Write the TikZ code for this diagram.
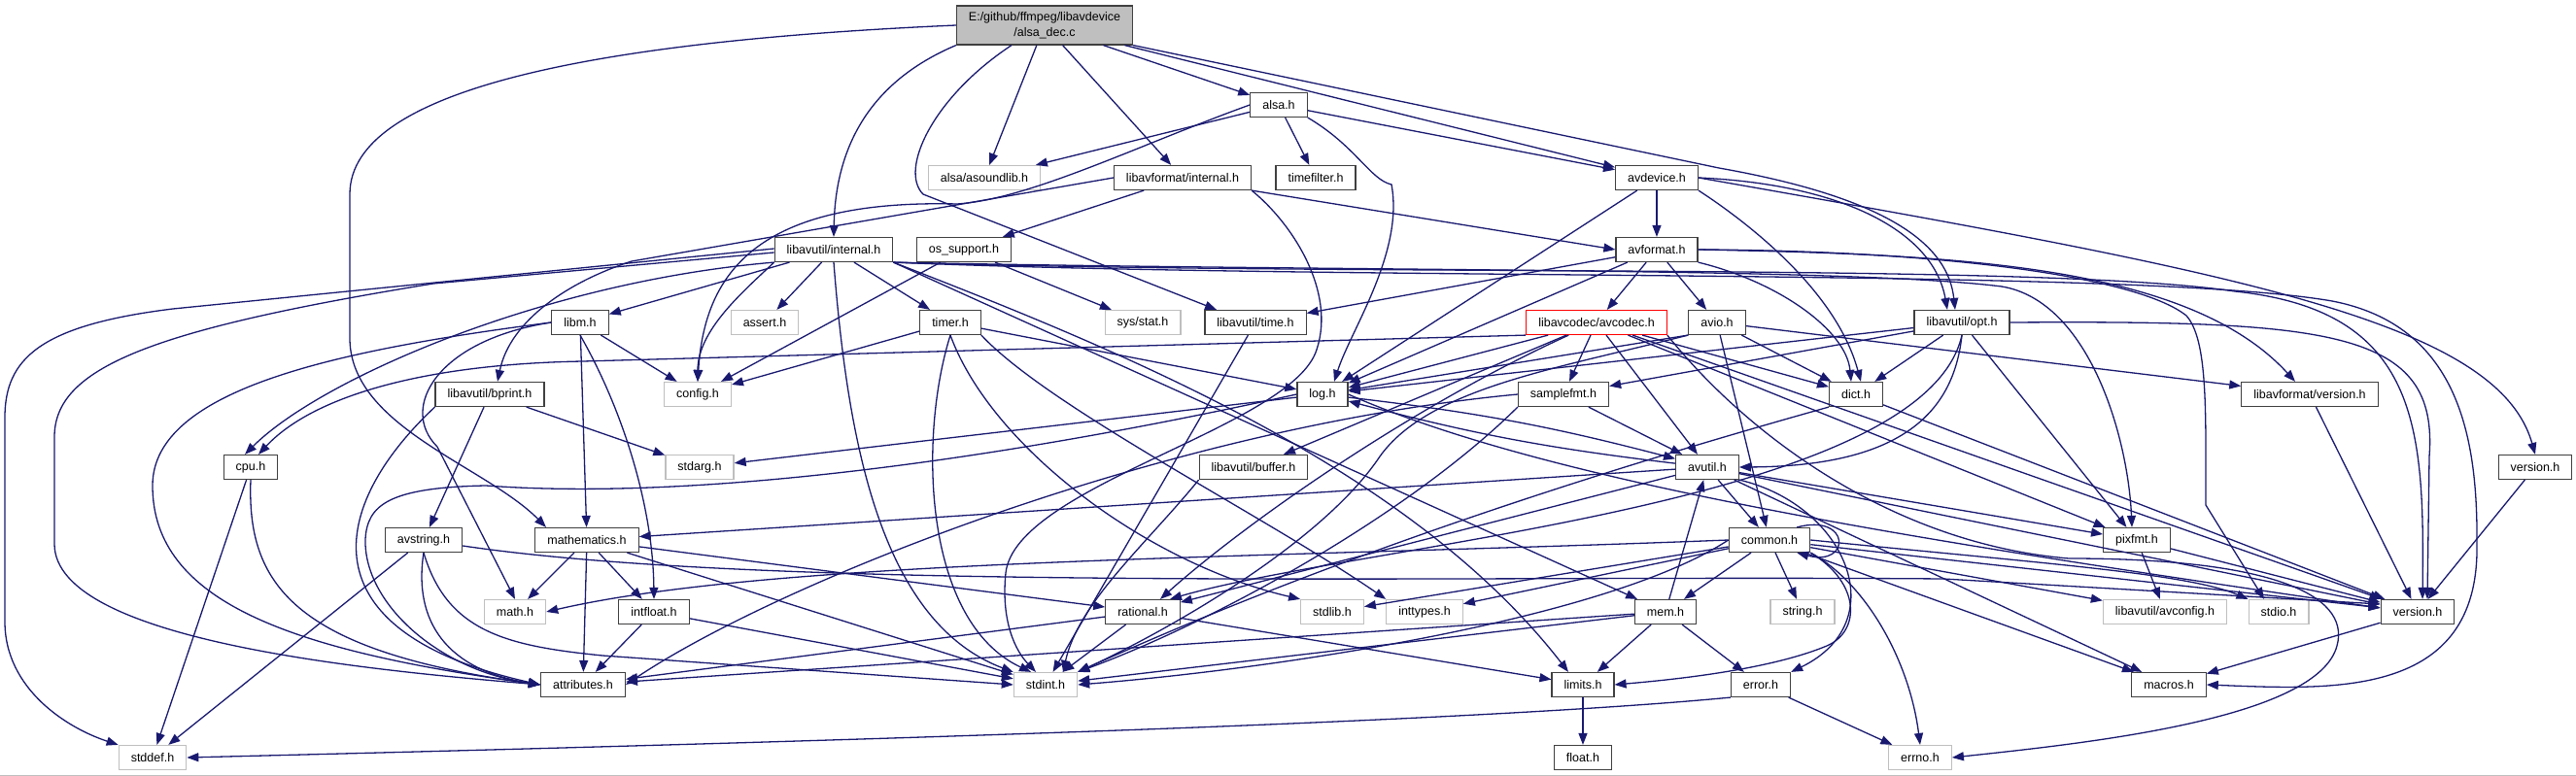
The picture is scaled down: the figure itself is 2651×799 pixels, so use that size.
\documentclass[tikz,border=0pt]{standalone}
\usepackage{fontspec}
\setmainfont{Liberation Sans}
\usepackage{tikz}
\usetikzlibrary{arrows.meta}
\usepackage{xcolor}
\definecolor{myblue}{RGB}{25,25,112}
\definecolor{mygray}{RGB}{191,191,191}
\definecolor{mydark}{RGB}{64,64,64}
\definecolor{myred}{RGB}{255,0,0}

\begin{document}
\begin{tikzpicture}[x=1pt, y=-1pt,
  hdr/.style={draw=mydark, line width=1.2pt, fill=white, rectangle,
    inner xsep=12.5pt, inner ysep=0pt, minimum height=25pt,
    font=\fontsize{12.5}{16}\selectfont},
  sys/.style={hdr, draw=mygray},
  inc/.style={draw=myblue, line width=1.3pt, -{Triangle[length=12pt,width=9pt]}}]
  \useasboundingbox (0,0) rectangle (2651,799);

  % Files
  \node[hdr, fill=mygray, minimum height=40pt, align=center] (dec) at (1075,26) {E:/github/ffmpeg/libavdevice\\/alsa\_dec.c};
  \node[hdr] (alsa) at (1316,108) {alsa.h};
  \node[sys] (asound) at (1013,183) {alsa/asoundlib.h};
  \node[hdr] (lfint) at (1217,183) {libavformat/internal.h};
  \node[hdr] (tfilt) at (1354,183) {timefilter.h};
  \node[hdr] (avdev) at (1705,183) {avdevice.h};
  \node[hdr] (intl) at (858,257) {libavutil/internal.h};
  \node[hdr] (ossup) at (992,257) {os\_support.h};
  \node[hdr] (avfmt) at (1705,257) {avformat.h};
  \node[hdr] (libm) at (597,332) {libm.h};
  \node[sys] (assrt) at (787,332) {assert.h};
  \node[hdr] (timer) at (978,332) {timer.h};
  \node[sys] (sstat) at (1176,332) {sys/stat.h};
  \node[hdr] (ltime) at (1292,332) {libavutil/time.h};
  \node[hdr, draw=myred] (avcodec) at (1643,332) {libavcodec/avcodec.h};
  \node[hdr] (avio) at (1767,332) {avio.h};
  \node[hdr] (opt) at (2019,332) {libavutil/opt.h};
  \node[hdr] (bprint) at (504,406) {libavutil/bprint.h};
  \node[sys] (config) at (718,406) {config.h};
  \node[hdr] (log) at (1361,406) {log.h};
  \node[hdr] (smpfmt) at (1609,406) {samplefmt.h};
  \node[hdr] (dict) at (1910,406) {dict.h};
  \node[hdr] (lfver) at (2377,406) {libavformat/version.h};
  \node[hdr] (cpu) at (258,481) {cpu.h};
  \node[sys] (stdarg) at (720,481) {stdarg.h};
  \node[hdr] (buffer) at (1290,481) {libavutil/buffer.h};
  \node[hdr] (avutil) at (1757,481) {avutil.h};
  \node[hdr] (dver) at (2609,481) {version.h};
  \node[hdr] (avstr) at (436,556) {avstring.h};
  \node[hdr] (mathh) at (604,556) {mathematics.h};
  \node[hdr] (common) at (1821,556) {common.h};
  \node[hdr] (pixfmt) at (2199,556) {pixfmt.h};
  \node[sys] (mathsys) at (530,630) {math.h};
  \node[hdr] (intfl) at (673,630) {intfloat.h};
  \node[hdr] (ratio) at (1176,630) {rational.h};
  \node[sys] (stdlib) at (1371,630) {stdlib.h};
  \node[sys] (inttyp) at (1466,630) {inttypes.h};
  \node[hdr] (mem) at (1714,630) {mem.h};
  \node[sys] (string) at (1855,630) {string.h};
  \node[sys] (avconf) at (2228,630) {libavutil/avconfig.h};
  \node[sys] (stdio) at (2345,630) {stdio.h};
  \node[hdr] (uver) at (2488,630) {version.h};
  \node[hdr] (attr) at (600,705) {attributes.h};
  \node[sys] (stdint) at (1076,705) {stdint.h};
  \node[hdr] (limits) at (1629,705) {limits.h};
  \node[hdr] (error) at (1812,705) {error.h};
  \node[hdr] (macros) at (2232,705) {macros.h};
  \node[sys] (stddef) at (157,780) {stddef.h};
  \node[hdr] (float) at (1629,780) {float.h};
  \node[sys] (errno) at (1976,780) {errno.h};

  % alsa_dec.c
  \draw[inc] (dec.west) .. controls (620,42) and (360,90) .. (360,200) -- (360,350) .. controls (362,440) and (500,480) .. ([xshift=-42pt]mathh.north);
  \draw[inc] (dec.south west) .. controls (905,80) and (860,140) .. (intl.north);
  \draw[inc] ([xshift=-34pt]dec.south) .. controls (960,100) and (925,175) .. (950,200) -- ([xshift=-40pt]ltime.north);
  \draw[inc] (dec) -- (asound);
  \draw[inc] (dec) -- (lfint);
  \draw[inc] (dec) -- (alsa);
  \draw[inc] (dec) -- (avdev);
  \draw[inc] (dec.south east) -- (1769,173) .. controls (1950,205) and (2005,255) .. ([xshift=-7pt]opt.north);

  % alsa.h
  \draw[inc] (alsa) -- (asound);
  \draw[inc] (alsa) -- (tfilt);
  \draw[inc] (alsa) -- (avdev);
  \draw[inc] (alsa.west) .. controls (1170,150) and (1060,205) .. (985,210) .. controls (780,205) and (725,280) .. (config.north);
  \draw[inc] (alsa.south east) .. controls (1395,150) and (1410,185) .. (1432,190) .. controls (1445,260) and (1390,340) .. ([xshift=12pt]log.north);

  % libavformat/internal.h
  \draw[inc] (lfint.west) -- (650,269) .. controls (585,290) and (525,330) .. ([xshift=8pt]bprint.north);
  \draw[inc] (lfint) -- (ossup);
  \draw[inc] (lfint.south east) -- (avfmt.west);
  \draw[inc] (lfint.south east) .. controls (1330,230) and (1375,300) .. (1355,360) .. controls (1330,440) and (1045,500) .. (1035,590) .. controls (1030,640) and (1045,670) .. ([xshift=-10pt]stdint.north);

  % os_support.h
  \draw[inc] (ossup) -- (config);
  \draw[inc] (ossup) -- (sstat);

  % libavutil/internal.h
  \draw[inc] (intl) -- (assrt);
  \draw[inc] (intl) -- (timer);
  \draw[inc] (intl) -- (libm);
  \draw[inc] (intl.south west) .. controls (765,300) and (718,340) .. (config.north);
  \draw[inc] (intl.south) .. controls (872,450) and (905,640) .. (stdint.north west);
  \draw[inc] (intl.south west) .. controls (560,290) and (330,390) .. ([xshift=-6pt]cpu.north);
  \draw[inc] ([yshift=-3pt]intl.west) -- (446,292) .. controls (150,340) and (56,380) .. (56,450) -- (56,560) .. controls (56,660) and (380,690) .. (attr.west);
  \draw[inc] ([yshift=1pt]intl.west) -- (178,318) .. controls (40,335) and (5,370) .. (5,430) -- (5,640) .. controls (5,710) and (70,750) .. (stddef.north west);
  \draw[inc] (intl.south east) .. controls (1150,360) and (1450,480) .. ([xshift=-15pt]limits.north);
  \draw[inc] (intl.south east) -- (mem);
  \draw[inc] (intl.south east) .. controls (1400,280) and (1900,275) .. (2060,295) .. controls (2150,310) and (2190,450) .. ([xshift=-5pt]pixfmt.north);
  \draw[inc] (intl.south east) .. controls (1400,285) and (2100,270) .. (2300,300) .. controls (2490,320) and (2495,440) .. ([xshift=5pt]uver.north);
  \draw[inc] (intl.south east) .. controls (1400,290) and (2200,275) .. (2400,310) .. controls (2530,335) and (2550,450) .. (2549,560) .. controls (2552,720) and (2400,710) .. (macros.east);

  % timer.h
  \draw[inc] (timer) -- (config);
  \draw[inc] (timer) -- (log);
  \draw[inc] (timer.south east) .. controls (1080,420) and (1300,530) .. (inttyp.north west);
  \draw[inc] (timer.south) .. controls (945,450) and (950,640) .. ([xshift=-15pt]stdint.north);
  \draw[inc] (timer.south) .. controls (1020,460) and (1180,580) .. (stdlib.north west);

  % libavutil/time.h
  \draw[inc] (ltime) -- (stdint);

  % avformat.h
  \draw[inc] (avfmt) -- (ltime);
  \draw[inc] (avfmt) -- (avcodec);
  \draw[inc] (avfmt) -- (avio);
  \draw[inc] (avfmt) -- (log);
  \draw[inc] (avfmt.south east) .. controls (1830,290) and (1900,340) .. ([xshift=-5pt]dict.north);
  \draw[inc] (avfmt.east) .. controls (2000,258) and (2200,285) .. (2250,325) .. controls (2272,350) and (2270,420) .. (2270,520) -- ([xshift=-15pt]stdio.north);
  \draw[inc] (avfmt.east) .. controls (2000,262) and (2250,270) .. ([xshift=-15pt]lfver.north);

  % avdevice.h
  \draw[inc] (avdev) -- (avfmt);
  \draw[inc] (avdev) -- (log);
  \draw[inc] (avdev.south east) .. controls (1800,230) and (1890,300) .. ([xshift=5pt]dict.north);
  \draw[inc] (avdev.east) .. controls (1900,190) and (1990,240) .. ([xshift=-15pt]opt.north);
  \draw[inc] (avdev.east) .. controls (2300,280) and (2570,330) .. (dver.north);

  % libavcodec/avcodec.h
  \draw[inc] (avcodec.south west) -- (600,372) .. controls (430,375) and (320,410) .. ([xshift=8pt]cpu.north);
  \draw[inc] (avcodec) -- (log);
  \draw[inc] (avcodec) -- (buffer);
  \draw[inc] (avcodec) -- (smpfmt);
  \draw[inc] (avcodec) -- (avutil);
  \draw[inc] (avcodec) -- (dict);
  \draw[inc] (avcodec) -- (pixfmt);
  \draw[inc] (avcodec) -- (uver);
  \draw[inc] (avcodec) .. controls (1450,420) and (1280,540) .. ([xshift=18pt]ratio.north);
  \draw[inc] (avcodec.south east) .. controls (1800,450) and (1950,560) .. (2129,575) .. controls (2330,575) and (2420,610) .. (2405,665) .. controls (2385,740) and (2150,765) .. (errno.east);

  % avio.h
  \draw[inc] (avio.south west) -- (log);
  \draw[inc] (avio) -- (common);
  \draw[inc] (avio) -- (dict);
  \draw[inc] (avio) -- (lfver);
  \draw[inc] (avio.south west) .. controls (1600,380) and (1470,400) .. (1420,470) .. controls (1360,560) and (1200,650) .. (stdint.north east);

  % libavutil/opt.h
  \draw[inc] (opt) -- (log);
  \draw[inc] (opt) -- (dict);
  \draw[inc] (opt) -- (smpfmt);
  \draw[inc] (opt) -- (pixfmt);
  \draw[inc] (opt.south) .. controls (2010,430) and (1950,480) .. (avutil.east);
  \draw[inc] (opt.south) .. controls (1980,520) and (1400,560) .. ([xshift=28pt]ratio.north);
  \draw[inc] (opt.east) .. controls (2400,330) and (2510,340) .. (2500,470) -- ([xshift=10pt]uver.north);

  % log.h
  \draw[inc] (log) to[bend left=4] (avutil);
  \draw[inc] (log) -- (stdarg);
  \draw[inc] (log.west) .. controls (1000,480) and (700,515) .. (500,500) .. controls (400,502) and (378,520) .. (376,555) .. controls (374,620) and (450,690) .. (attr.west);
  \draw[inc] (log.east) .. controls (1600,500) and (2000,560) .. ([yshift=4pt]uver.west);

  % samplefmt.h
  \draw[inc] (smpfmt) -- (avutil);
  \draw[inc] (smpfmt.west) .. controls (1200,440) and (800,600) .. (attr.east);
  \draw[inc] (smpfmt.south west) .. controls (1450,530) and (1250,640) .. (stdint.north east);

  % dict.h
  \draw[inc] (dict.south west) .. controls (1700,470) and (1400,560) .. (stdint.north east);
  \draw[inc] (dict) -- (uver);

  % avutil.h
  \draw[inc] (avutil) -- (mathh);
  \draw[inc] (avutil) to[bend left=4] (log);
  \draw[inc] (avutil) -- (common);
  \draw[inc] (avutil) -- (ratio);
  \draw[inc] (avutil) -- (pixfmt);
  \draw[inc] (avutil) -- (uver);
  \draw[inc] (avutil) -- (macros);
  \draw[inc] (avutil.south east) .. controls (1900,520) and (1950,640) .. (error.north east);

  % common.h
  \draw[inc] ([xshift=-14pt]common.north east) .. controls (1905,528) and (1905,584) .. ([xshift=-14pt]common.south east);
  \draw[inc] (common.west) .. controls (1300,575) and (800,575) .. (mathsys.east);
  \draw[inc] (common) -- (stdlib);
  \draw[inc] (common) -- (inttyp);
  \draw[inc] (common) -- (mem);
  \draw[inc] (common) -- (string);
  \draw[inc] (common.south east) .. controls (1920,600) and (1965,680) .. (errno.north);
  \draw[inc] (common.south east) .. controls (1915,600) and (1915,650) .. (1880,665) .. controls (1820,690) and (1720,700) .. (limits.east);
  \draw[inc] (common.west) .. controls (1650,640) and (1300,690) .. (stdint.east);
  \draw[inc] (common) -- (uver);
  \draw[inc] (common) -- (avconf);
  \draw[inc] (common.east) .. controls (2100,580) and (2250,590) .. (stdio.north west);
  \draw[inc] (common) -- (macros);

  % mem.h
  \draw[inc] (mem) -- (avutil);
  \draw[inc] (mem) -- (limits);
  \draw[inc] (mem) -- (error);
  \draw[inc] (mem) -- (stdint);
  \draw[inc] (mem) -- (attr);

  % error.h, limits.h
  \draw[inc] (error) -- (errno);
  \draw[inc] (error.south west) .. controls (1500,745) and (800,765) .. (stddef.east);
  \draw[inc] (limits) -- (float);

  % rational.h
  \draw[inc] (ratio) -- (stdint);
  \draw[inc] (ratio) -- (limits);
  \draw[inc] (ratio) -- (attr);

  % mathematics.h
  \draw[inc] (mathh) -- (mathsys);
  \draw[inc] (mathh) -- (attr);
  \draw[inc] (mathh) -- (intfl);
  \draw[inc] (mathh) -- (ratio);
  \draw[inc] (mathh) -- (stdint);

  % intfloat.h
  \draw[inc] (intfl) -- (stdint);
  \draw[inc] (intfl) -- (attr);

  % avstring.h
  \draw[inc] (avstr) -- (stddef);
  \draw[inc] (avstr.south) .. controls (425,640) and (460,690) .. (attr.west);
  \draw[inc] (avstr.south) .. controls (460,650) and (520,665) .. (620,675) -- (stdint.west);
  \draw[inc] ([yshift=-6pt]avstr.east) .. controls (800,610) and (1500,592) .. (2000,596) -- ([yshift=8pt]uver.west);

  % libavutil/bprint.h
  \draw[inc] (bprint) -- (avstr);
  \draw[inc] (bprint) -- (stdarg);
  \draw[inc] (bprint.south west) .. controls (340,520) and (310,650) .. (attr.west);

  % libm.h
  \draw[inc] (libm) -- (config);
  \draw[inc] (libm) -- (mathh);
  \draw[inc] (libm.south) .. controls (640,420) and (672,520) .. (intfl.north);
  \draw[inc] (libm.west) .. controls (450,350) and (410,420) .. (450,460) -- (mathsys.north);
  \draw[inc] (libm.west) .. controls (350,360) and (157,400) .. (157,500) .. controls (157,620) and (300,670) .. (attr.west);

  % cpu.h
  \draw[inc] (cpu) -- (stddef);
  \draw[inc] (cpu.south) .. controls (254,600) and (300,670) .. (attr.west);

  % the rest
  \draw[inc] (lfver) -- (uver);
  \draw[inc] (dver) -- (uver);
  \draw[inc] (pixfmt) -- (avconf);
  \draw[inc] (pixfmt) -- (uver);
  \draw[inc] (uver) -- (macros);
  \draw[inc] (buffer.south west) .. controls (1180,560) and (1110,620) .. ([xshift=18pt]stdint.north);

  % frame
  \draw[mygray, line width=1pt] (0,798) -- (2651,798);
\end{tikzpicture}
\end{document}
